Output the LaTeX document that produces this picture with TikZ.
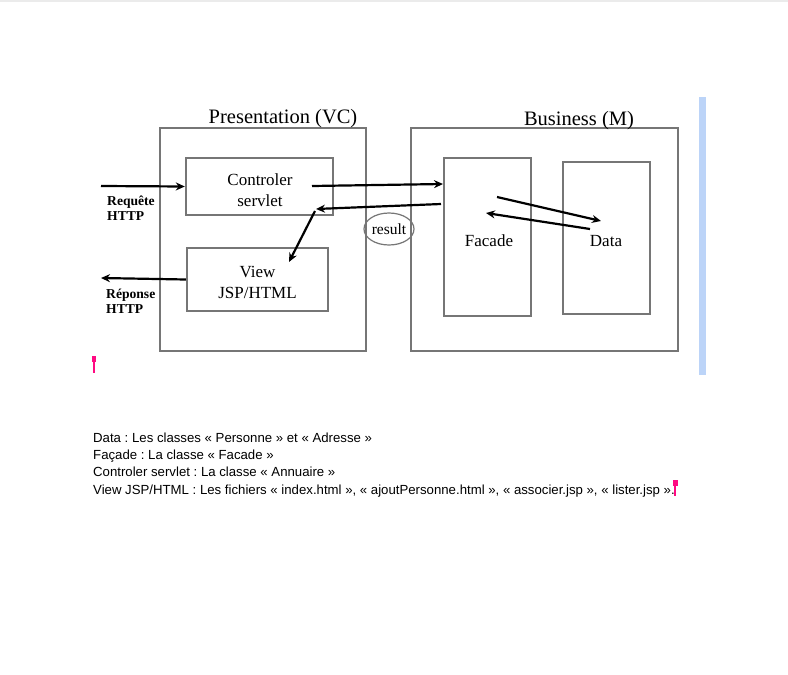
\documentclass[tikz,border=0pt]{standalone}
\usepackage{fontspec}
\setmainfont{Liberation Serif}
\newfontfamily\arialfont{Liberation Sans}
\usetikzlibrary{arrows.meta}
\definecolor{boxgray}{HTML}{767676}
\definecolor{barblue}{HTML}{BCD4F8}
\definecolor{cursorpink}{HTML}{FF0A82}
\tikzset{
  frame/.style={draw=boxgray,line width=2.4pt},
  inner/.style={draw=boxgray,line width=2.4pt},
  conn/.style={line width=2.2pt,-{Stealth[length=9pt,width=8pt]}},
  lbl/.style={font=\fontsize{17}{21}\selectfont,align=center},
  title/.style={font=\fontsize{20.5}{23}\selectfont},
  http/.style={font=\bfseries\fontsize{13.6}{15}\selectfont,align=left,anchor=north west,inner sep=0pt},
  notes/.style={font=\arialfont\frenchspacing\fontsize{13.2}{17.1}\selectfont,align=left,anchor=north west,inner sep=0pt}
}
\begin{document}
\begin{tikzpicture}[x=1pt,y=-1pt]
\useasboundingbox (0,0) rectangle (788,675);
\fill[white] (0,0) rectangle (788,675);
\draw[black!8,line width=1.5pt] (0,0.75) -- (788,0.75);
% blue bar
\fill[barblue] (699,97) rectangle (706,375);
% outer frames
\draw[frame] (160,128) rectangle (366,351);
\draw[frame] (411,128) rectangle (678,351);
\node[title] (tp) at (283,119) {Presentation (VC)};
\node[title] (tb) at (579,121) {Business (M)};
% inner boxes
\node[inner,minimum width=147pt,minimum height=57pt,inner sep=0pt] (ctrl) at (259.5,186.5) {};
\node[lbl] (ctrlt) at (260,190) {Controler\\servlet};
\node[inner,minimum width=141pt,minimum height=63pt,inner sep=0pt] (view) at (257.5,279.5) {};
\node[lbl] (viewt) at (257.5,282) {View\\JSP/HTML};
\node[inner,minimum width=87pt,minimum height=158pt,inner sep=0pt] (fac) at (487.5,237) {};
\node[lbl] (fact) at (489,240.5) {Facade};
\node[inner,minimum width=87pt,minimum height=152pt,inner sep=0pt] (data) at (606.5,238) {};
\node[lbl] (datat) at (606,241) {Data};
% result ellipse
\draw[boxgray,line width=1.2pt] (389,229) ellipse (25pt and 16pt);
\node[font=\fontsize{15.5}{17}\selectfont] (res) at (389,229) {result};
% http labels
\node[http] (req) at (107,196) {Requête\\HTTP};
\node[http] (rep) at (106,289) {Réponse\\HTTP};
% coordinates for connectors
\coordinate (reqs) at (101,186);
\coordinate (reps) at (101,278);
\coordinate (c1) at (312,186);
\coordinate (f1) at (443,184);
\coordinate (f2) at (441,204);
\coordinate (c2) at (316,209);
\coordinate (c3) at (315,211);
\coordinate (v1) at (289,262);
\coordinate (f3) at (497,197);
\coordinate (d1) at (601,221);
\coordinate (d2) at (590,229);
\coordinate (f4) at (486,213);
\draw[conn] (reqs) -- (ctrl.west);
\draw[conn] (view.west) -- (reps);
\draw[conn] (c1) -- (f1);
\draw[conn] (f2) -- (c2);
\draw[conn] (c3) -- (v1);
\draw[conn] (f3) -- (d1);
\draw[conn] (d2) -- (f4);
% cursors
\fill[cursorpink] (91.5,356) rectangle (96,362);
\fill[cursorpink] (92.8,356) rectangle (94.8,373);
\fill[cursorpink] (673,480) rectangle (677.5,486);
\fill[cursorpink] (674.3,480) rectangle (676.3,496);
% notes
\node[notes] (notes) at (93,433) {Data : Les classes « Personne » et « Adresse »\\
Façade : La classe « Facade »\\
Controler servlet : La classe « Annuaire »\\
View JSP/HTML : Les fichiers « index.html », « ajoutPersonne.html », « associer.jsp », « lister.jsp ».};
\end{tikzpicture}
\end{document}
